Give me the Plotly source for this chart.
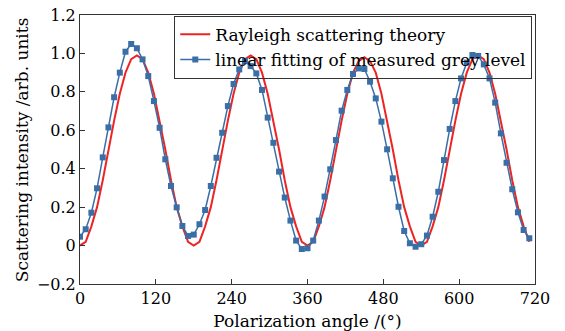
import plotly.graph_objects as go

# Polarization angles (degrees), sampled every 9 degrees
angles = [9 * k for k in range(80)]

# Rayleigh scattering theory
theory = [
    0.00, 0.02, 0.10, 0.20, 0.34, 0.50, 0.65, 0.79, 0.90, 0.97,
    0.99, 0.97, 0.90, 0.79, 0.65, 0.50, 0.34, 0.20, 0.10, 0.02,
    0.00, 0.02, 0.10, 0.20, 0.34, 0.50, 0.65, 0.79, 0.90, 0.97,
    0.99, 0.97, 0.90, 0.79, 0.65, 0.50, 0.34, 0.20, 0.10, 0.02,
    0.00, 0.02, 0.10, 0.20, 0.34, 0.50, 0.65, 0.79, 0.90, 0.96,
    0.98, 0.96, 0.90, 0.79, 0.65, 0.50, 0.34, 0.20, 0.10, 0.02,
    0.00, 0.02, 0.10, 0.20, 0.34, 0.50, 0.65, 0.79, 0.90, 0.97,
    0.99, 0.97, 0.90, 0.79, 0.65, 0.50, 0.34, 0.20, 0.10, 0.02,
]

# Linear fitting of measured grey level
measured = [
    0.046, 0.085, 0.171, 0.298, 0.459, 0.615, 0.772, 0.900, 1.009, 1.049,
    1.027, 0.969, 0.882, 0.752, 0.613, 0.449, 0.310, 0.199, 0.102, 0.050,
    0.057, 0.111, 0.185, 0.310, 0.457, 0.587, 0.726, 0.841, 0.917, 0.960,
    0.934, 0.896, 0.810, 0.666, 0.535, 0.385, 0.250, 0.130, 0.026, -0.018,
    -0.014, 0.026, 0.130, 0.255, 0.397, 0.549, 0.702, 0.810, 0.893, 0.922,
    0.919, 0.853, 0.766, 0.645, 0.501, 0.350, 0.202, 0.076, 0.012, -0.006,
    0.007, 0.052, 0.150, 0.280, 0.445, 0.607, 0.752, 0.870, 0.952, 0.992,
    0.987, 0.943, 0.870, 0.744, 0.584, 0.431, 0.293, 0.173, 0.081, 0.038,
]

x_ticks = [0, 120, 240, 360, 480, 600, 720]
y_ticks = [-0.2, 0, 0.2, 0.4, 0.6, 0.8, 1.0, 1.2]
y_tick_text = ["\u22120.2", "0", "0.2", "0.4", "0.6", "0.8", "1.0", "1.2"]

font_family = "DejaVu Serif"

fig = go.Figure()
fig.add_trace(go.Scatter(
    x=angles, y=theory, mode="lines",
    name="Rayleigh scattering theory",
    line=dict(color="#ee2424", width=2),
))
fig.add_trace(go.Scatter(
    x=angles, y=measured, mode="lines+markers",
    name="linear fitting of measured grey level",
    line=dict(color="#3a6ea6", width=1.5),
    marker=dict(symbol="square", size=6, color="#3a6ea6"),
))

axis_common = dict(
    showgrid=False, zeroline=False, showline=True, linecolor="#333333",
    linewidth=1, mirror=True, ticks="inside", ticklen=5, tickcolor="#333333",
    tickfont=dict(family=font_family, size=16, color="black"),
    automargin=False,
)

fig.update_layout(
    width=565, height=331,
    margin=dict(l=80, r=30, t=15, b=47),
    paper_bgcolor="white", plot_bgcolor="white",
    font=dict(family=font_family, size=16, color="black"),
    showlegend=True,
    legend=dict(
        x=0.994, y=0.997, xanchor="right", yanchor="top",
        bgcolor="rgba(255,255,255,0)", bordercolor="#333333", borderwidth=1,
        font=dict(family=font_family, size=17, color="black"),
        tracegroupgap=0, itemwidth=30,
    ),
    xaxis=dict(
        range=[0, 720], tickvals=x_ticks,
        title=dict(text="Polarization angle /(°)",
                   font=dict(family=font_family, size=17)),
        **axis_common,
    ),
    yaxis=dict(
        range=[-0.2, 1.2], tickvals=y_ticks, ticktext=y_tick_text,
        **axis_common,
    ),
    annotations=[dict(
        text="Scattering intensity /arb. units",
        xref="paper", yref="paper", x=-0.128, y=0.5,
        xanchor="center", yanchor="middle", textangle=-90, showarrow=False,
        font=dict(family=font_family, size=17, color="black"),
    )],
)

fig.write_html("out.html")
